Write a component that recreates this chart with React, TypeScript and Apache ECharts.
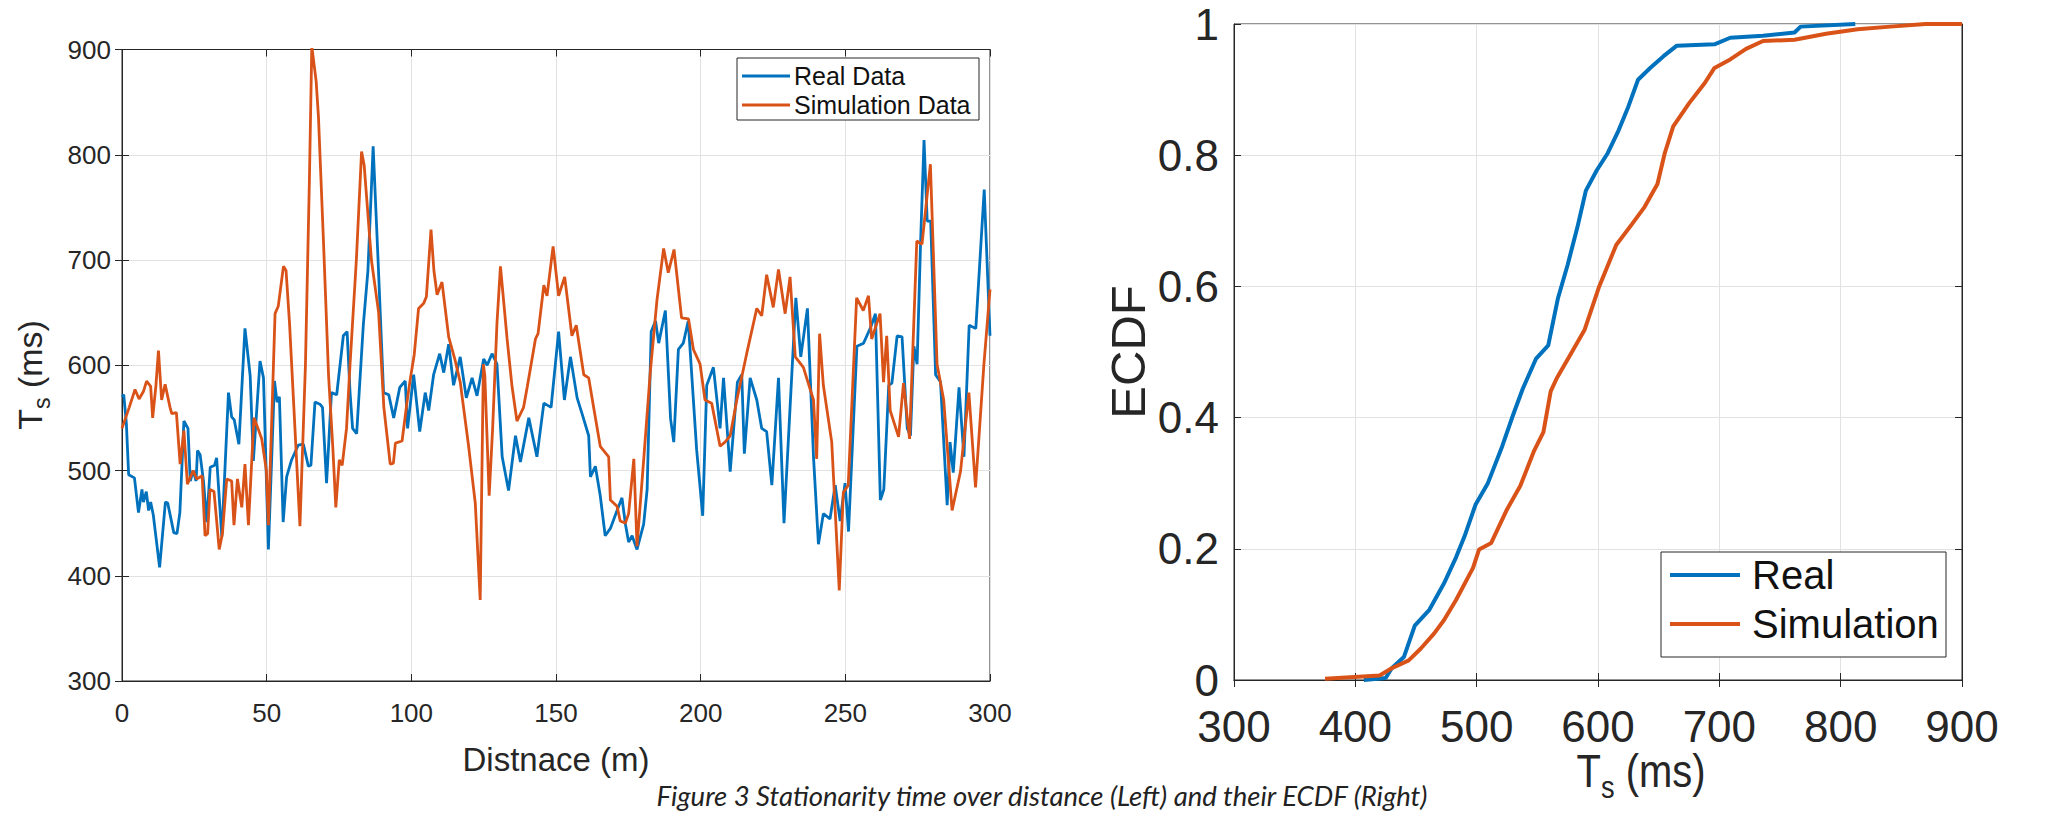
import React, { useEffect, useRef } from 'react';
import * as echarts from 'echarts';

// Left chart: stationarity time (ms) over distance (m)
const realData: [number, number][] = [
  [0,570],[0.6,572],[1.5,545],[2.3,496],[4.3,493],[5.7,460],[6.9,482],[7.4,470],[8.4,480],[9.2,462],[9.9,470],[10.8,458],[13,408],[15,470],[15.8,469],[17.9,441],[19,440],[20,460],[21.4,547],[22.8,540],[23.6,490],[24.6,500],[25.6,490],[26.1,519],[27,515],[28.2,489],[29.3,451],[30.5,503],[32,505],[32.7,512],[34.5,437],[36.8,574],[37.9,551],[38.8,548],[40.4,525],[42.5,635],[44.3,590],[45.4,509],[47.7,604],[48.9,588],[50.6,425],[52.7,585],[53.6,565],[54.4,570],[55.7,451],[56.9,494],[58.6,510],[60.9,524],[62.7,525],[64.4,504],[65.3,505],[66.7,565],[68.4,563],[69.3,560],[70.7,488],[72.4,574],[74.2,572],[76.5,628],[77.8,632],[78.8,575],[79.7,540],[81.1,535],[83.4,638],[85,690],[86.8,808],[88.5,700],[90.4,574],[92.2,572],[93.9,550],[96,579],[97.9,585],[98.7,540],[100.8,591],[102.9,537],[104.8,574],[106,557],[107.7,591],[109.8,611],[111.2,593],[112.9,620],[114.6,581],[116.9,608],[119,569],[121,588],[122.7,571],[125,606],[126.2,600],[127.9,611],[129.6,601],[131.4,513],[133.6,481],[136,533],[137.7,508],[140.6,550],[143.4,513],[145.8,564],[148.3,560],[150.9,632],[152.9,567],[155,608],[157.3,569],[159,554],[161.3,533],[161.9,494],[163.6,504],[165.3,476],[167,438],[168.8,445],[171.1,462],[172.8,474],[174,449],[175.1,432],[176.3,438],[178,425],[180.3,449],[181.5,482],[182.9,632],[184.4,642],[185.5,621],[187.8,652],[189.6,549],[190.7,527],[192.3,615],[194,621],[195.7,642],[198.6,520],[200.7,457],[202.1,581],[204.4,598],[206.7,540],[207.9,588],[210.2,499],[212.7,584],[214.2,591],[215.1,516],[217.1,588],[219.4,567],[221.1,540],[222.8,537],[224.6,486],[226.9,588],[228.8,450],[230.9,560],[232.9,664],[234.6,608],[236.9,654],[239,513],[240.7,430],[242.4,459],[244.7,454],[246.5,486],[248.2,452],[249.9,488],[251.1,442],[254,618],[256.3,621],[258.6,635],[260.4,649],[262.1,472],[263.3,482],[265,581],[266.1,583],[267.9,628],[269.6,627],[271.4,540],[272.5,533],[273.7,618],[274.8,601],[276,716],[277.2,814],[278.3,737],[279.5,737],[281.2,591],[282.9,584],[285.2,467],[286.2,527],[287.3,498],[289.3,579],[291,513],[292.8,638],[295.1,635],[298,767],[300,628]
];

const simData: [number, number][] = [
  [0,540],[2.5,560],[4.5,577],[5.9,568],[7.4,575],[8.5,585],[9.9,580],[10.6,550],[11.7,580],[12.6,614],[13.7,567],[14.9,582],[16.6,560],[17.2,554],[18.8,555],[20.1,506],[21.4,538],[22.6,487],[24.6,500],[25.8,492],[27.7,495],[28.7,438],[29.6,440],[30.4,482],[31.8,480],[33.6,425],[34.7,440],[36.2,492],[37.9,490],[38.7,448],[39.9,492],[41.4,465],[42.5,506],[43.7,448],[45.6,550],[47,540],[48.3,530],[49.9,500],[50.6,448],[52.9,649],[54,656],[55.8,694],[56.7,690],[57.9,640],[59.4,560],[61.5,447],[63.4,600],[64.8,780],[65.6,903],[67.1,870],[67.9,836],[69.6,720],[71.4,590],[72.9,520],[73.9,465],[75.1,510],[76.1,505],[77.6,540],[78.8,600],[81,700],[82.8,803],[83.7,790],[86.2,700],[88.7,650],[90.5,560],[92.7,506],[93.8,507],[94.5,526],[96.8,528],[98.5,565],[99.7,588],[101,610],[102.5,654],[104.3,659],[105.2,665],[106.8,729],[107.8,690],[108.9,667],[110.6,679],[112.9,627],[115.1,605],[116.9,584],[119.8,523],[122.1,469],[123.8,377],[124.9,601],[125.4,590],[126.9,476],[128.1,540],[129.6,640],[130.8,694],[133.1,625],[134.8,580],[136.5,547],[138.8,560],[140.1,580],[142.9,625],[143.8,630],[145.8,676],[146.9,666],[149,713],[150.9,666],[153,684],[155.5,628],[157,638],[159.6,591],[161.3,588],[163,560],[165.3,523],[168.2,513],[168.8,472],[171.1,466],[172.2,452],[174,450],[175.1,459],[176.9,511],[178,428],[180.3,510],[182.6,594],[184.9,662],[187.2,711],[188.8,688],[190.8,710],[193.4,645],[195.8,644],[197.5,615],[199.8,601],[201.5,567],[203.8,564],[206.7,523],[208.4,527],[210.2,533],[212.5,567],[215.9,611],[219.4,654],[221.1,647],[222.8,686],[225.1,655],[226.9,691],[229.2,649],[230.9,684],[232.7,608],[235.5,598],[239,567],[240.1,511],[241.1,630],[242.4,581],[245.3,527],[247.9,386],[249.3,479],[251,486],[253.9,664],[256.2,652],[258,666],[259.1,625],[262,649],[263.2,584],[264.3,628],[265.5,557],[268.4,532],[270.1,583],[272.2,530],[274.7,718],[276.5,715],[279.4,791],[281.7,601],[284,567],[286.9,462],[289.8,499],[292.7,574],[295,484],[297.9,601],[300,672]
];

// Right chart: ECDF of T_s (ms)
const ecdfReal: [number, number][] = [
  [407,0],[425,0.003],[430,0.018],[440,0.035],[449,0.083],[461,0.107],[473,0.147],[483,0.187],[490,0.219],[499,0.267],[509,0.299],[521,0.356],[530,0.404],[538,0.444],[549,0.49],[559,0.51],[567,0.582],[575,0.633],[583,0.69],[590,0.746],[599,0.777],[608,0.803],[617,0.838],[625,0.874],[633,0.915],[643,0.933],[654,0.951],[665,0.967],[696,0.969],[709,0.979],[736,0.982],[762,0.987],[767,0.996],[812,1.0]
];

const ecdfSim: [number, number][] = [
  [375,0.002],[420,0.007],[430,0.018],[444,0.03],[454,0.048],[465,0.071],[473,0.091],[483,0.122],[497,0.171],[502,0.199],[512,0.209],[525,0.26],[536,0.296],[547,0.348],[555,0.378],[561,0.44],[566,0.46],[576,0.492],[589,0.534],[601,0.6],[615,0.663],[628,0.695],[638,0.72],[649,0.756],[655,0.803],[662,0.844],[675,0.879],[688,0.91],[696,0.933],[709,0.946],[722,0.962],[736,0.974],[762,0.976],[788,0.985],[814,0.992],[841,0.996],[870,1.0],[900,1.0]
];

const leftLegendNames = ['Real Data', 'Simulation Data'];
const rightLegendNames = ['Real', 'Simulation'];
const caption = 'Figure 3 Stationarity time over distance (Left) and their ECDF (Right)';

const BLUE = '#0072BD';
const ORANGE = '#D95319';
const AX = '#262626';
const GRID = '#e2e2e2';
const FONT = '"Liberation Sans", Arial, Helvetica, sans-serif';

export default function App() {
  const ref = useRef<HTMLDivElement>(null);

  useEffect(() => {
    document.body.style.margin = '0';
    const chart = echarts.init(ref.current as HTMLDivElement, undefined, { renderer: 'svg' });

    const frameAxis = (gridIndex: number, min: number, max: number, interval: number, position: string) => ({
      type: 'value', gridIndex, min, max, interval, position,
      axisLine: { show: true, lineStyle: { color: AX, width: 1 } },
      axisTick: { show: true, inside: true, length: 7, lineStyle: { color: AX } },
      axisLabel: { show: false },
      splitLine: { show: false },
    });

    const mainAxis = (gridIndex: number, min: number, max: number, interval: number, position: string, fontSize: number, margin: number) => ({
      type: 'value', gridIndex, min, max, interval, position,
      axisLine: { show: true, onZero: false, lineStyle: { color: AX, width: 1 } },
      axisTick: { show: true, inside: true, length: 7, lineStyle: { color: AX } },
      axisLabel: { show: true, fontSize, color: AX, fontFamily: FONT, margin },
      splitLine: { show: true, lineStyle: { color: GRID, width: 1 } },
    });

    const legend = (x: number, y: number, w: number, h: number, lx1: number, lx2: number, tx: number, ys: number[], names: string[], fs: number, lw: number) => {
      const els: any[] = [
        { type: 'rect', z: 100, shape: { x, y, width: w, height: h }, style: { fill: '#fff', stroke: AX, lineWidth: 1 } },
      ];
      names.forEach((n, i) => {
        els.push({ type: 'line', z: 101, shape: { x1: lx1, y1: ys[i], x2: lx2, y2: ys[i] }, style: { stroke: i === 0 ? BLUE : ORANGE, lineWidth: lw } });
        els.push({ type: 'text', z: 101, x: tx, y: ys[i], style: { text: n, fontSize: fs, fontFamily: FONT, fill: '#111', align: 'left', verticalAlign: 'middle' } });
      });
      return els;
    };

    const option: any = {
      animation: false,
      backgroundColor: '#fff',
      grid: [
        { left: 122, top: 49.5, width: 868, height: 631.5, show: true, borderColor: AX, borderWidth: 1, containLabel: false },
        { left: 1234, top: 24, width: 728, height: 656, show: true, borderColor: AX, borderWidth: 1, containLabel: false },
      ],
      xAxis: [
        mainAxis(0, 0, 300, 50, 'bottom', 26, 19),
        frameAxis(0, 0, 300, 50, 'top'),
        mainAxis(1, 300, 900, 100, 'bottom', 44, 24),
        frameAxis(1, 300, 900, 100, 'top'),
      ],
      yAxis: [
        mainAxis(0, 300, 900, 100, 'left', 26, 11),
        frameAxis(0, 300, 900, 100, 'right'),
        mainAxis(1, 0, 1, 0.2, 'left', 44, 15),
        frameAxis(1, 0, 1, 0.2, 'right'),
      ],
      series: [
        { type: 'line', name: 'Real Data', xAxisIndex: 0, yAxisIndex: 0, data: realData, symbol: 'none', clip: true, lineStyle: { color: BLUE, width: 2.8 }, itemStyle: { color: BLUE } },
        { type: 'line', name: 'Simulation Data', xAxisIndex: 0, yAxisIndex: 0, data: simData, symbol: 'none', clip: true, lineStyle: { color: ORANGE, width: 2.8 }, itemStyle: { color: ORANGE } },
        { type: 'line', name: 'Real', xAxisIndex: 2, yAxisIndex: 2, data: ecdfReal, symbol: 'none', clip: true, lineStyle: { color: BLUE, width: 4 }, itemStyle: { color: BLUE } },
        { type: 'line', name: 'Simulation', xAxisIndex: 2, yAxisIndex: 2, data: ecdfSim, symbol: 'none', clip: true, lineStyle: { color: ORANGE, width: 4 }, itemStyle: { color: ORANGE } },
      ],
      graphic: [
        // Left y-axis title: T_s (ms)
        {
          type: 'text', x: 30, y: 375, rotation: Math.PI / 2,
          style: {
            text: '{t|T}{s|s}{t| (ms)}', align: 'center', verticalAlign: 'middle',
            rich: {
              t: { fontSize: 34, fontFamily: FONT, fill: AX, lineHeight: 47, verticalAlign: 'middle' },
              s: { fontSize: 23, fontFamily: FONT, fill: AX, lineHeight: 23, verticalAlign: 'bottom' },
            },
          },
        },
        // Left x-axis title
        { type: 'text', x: 556, y: 759, style: { text: 'Distnace (m)', fontSize: 33, fontFamily: FONT, fill: AX, align: 'center', verticalAlign: 'middle' } },
        // Right y-axis title
        { type: 'text', x: 1128, y: 352, rotation: Math.PI / 2, style: { text: 'ECDF', fontSize: 49, fontFamily: FONT, fill: AX, align: 'center', verticalAlign: 'middle' } },
        // Right x-axis title: T_s (ms)
        {
          type: 'text', x: 1641, y: 771, scaleX: 0.85,
          style: {
            text: '{t|T}{s|s}{t| (ms)}', align: 'center', verticalAlign: 'middle',
            rich: {
              t: { fontSize: 47, fontFamily: FONT, fill: AX, lineHeight: 64, verticalAlign: 'middle' },
              s: { fontSize: 32, fontFamily: FONT, fill: AX, lineHeight: 32, verticalAlign: 'bottom' },
            },
          },
        },
        // Caption
        { type: 'text', x: 1042, y: 795, style: { text: caption, fontSize: 27.5, fontStyle: 'italic', fontFamily: 'Lato, "Open Sans", sans-serif', fill: '#222', align: 'center', verticalAlign: 'middle' } },
        ...legend(737, 58, 242, 62, 742, 790, 794, [76, 105], leftLegendNames, 25, 3),
        ...legend(1661, 552, 285, 105, 1670, 1740, 1752, [575, 624], rightLegendNames, 40, 4),
      ],
    };

    chart.setOption(option);
    return () => { chart.dispose(); };
  }, []);

  return <div ref={ref} style={{ width: 2048, height: 817 }} />;
}
